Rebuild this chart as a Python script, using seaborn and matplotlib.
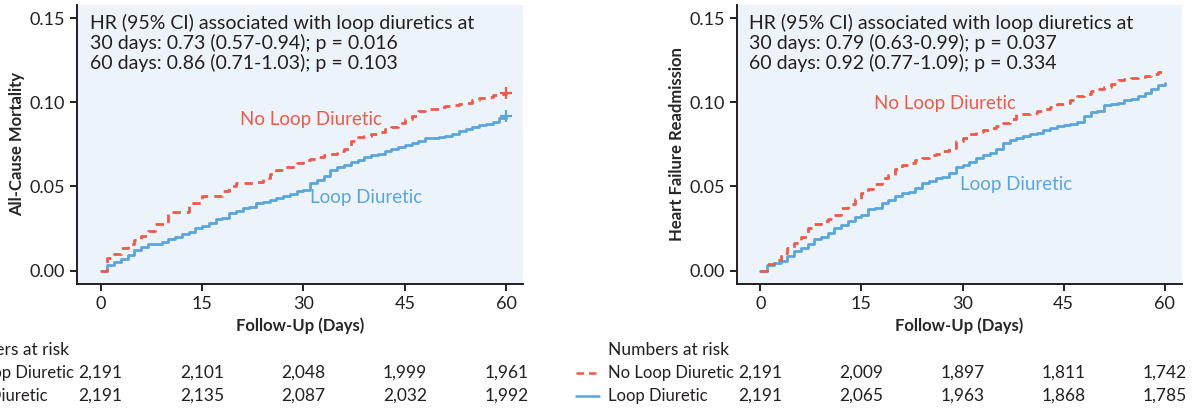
import matplotlib
matplotlib.use("Agg")
import matplotlib.pyplot as plt
import matplotlib.transforms as mtransforms
import pandas as pd
import seaborn as sns

# follow-up days, one value per day (cumulative incidence after that day's step)
days = list(range(61))

mort_no_loop = [0, 0.0076, 0.0101, 0.0135, 0.0159, 0.018, 0.0208, 0.0234, 0.0274, 0.0274,
                0.0347, 0.0347, 0.0347, 0.0403, 0.0403, 0.0442, 0.0442, 0.0442, 0.0472, 0.050,
                0.0518, 0.0518, 0.0518, 0.0528, 0.0552, 0.0577, 0.0597, 0.0617, 0.0617, 0.0641,
                0.0657, 0.0665, 0.0677, 0.0685, 0.0696, 0.071, 0.072, 0.077, 0.0796, 0.0803,
                0.0815, 0.0823, 0.0839, 0.0853, 0.0879, 0.0899, 0.0918, 0.0948, 0.0958, 0.0962,
                0.097, 0.0978, 0.0982, 0.0988, 0.0994, 0.1014, 0.1024, 0.1034, 0.1042, 0.1048,
                0.1058]
mort_loop = [0, 0.003, 0.005, 0.007, 0.0093, 0.012, 0.014, 0.0157, 0.016, 0.0169,
             0.019, 0.020, 0.0216, 0.0228, 0.0254, 0.0264, 0.028, 0.0304, 0.031, 0.034,
             0.0355, 0.0369, 0.0379, 0.040, 0.0409, 0.0419, 0.0433, 0.0442, 0.0458, 0.0474,
             0.048, 0.052, 0.054, 0.056, 0.060, 0.0617, 0.063, 0.0647, 0.066, 0.0673,
             0.0685, 0.0696, 0.071, 0.0724, 0.0734, 0.0746, 0.0756, 0.0768, 0.0788, 0.079,
             0.0796, 0.080, 0.0813, 0.083, 0.0839, 0.0855, 0.0863, 0.0873, 0.0883, 0.0909,
             0.0918]
hf_no_loop = [0, 0.0036, 0.0065, 0.0105, 0.0135, 0.0165, 0.0198, 0.0254, 0.0274, 0.0294,
              0.0308, 0.0333, 0.0373, 0.0393, 0.0423, 0.0462, 0.0482, 0.0512, 0.0552, 0.0571,
              0.0601, 0.0625, 0.0637, 0.066, 0.0671, 0.0685, 0.0696, 0.071, 0.073, 0.077,
              0.0786, 0.081, 0.0823, 0.0833, 0.0845, 0.0859, 0.0879, 0.0903, 0.0933, 0.0933,
              0.0938, 0.0948, 0.0962, 0.0974, 0.0988, 0.0998, 0.1012, 0.1038, 0.1052, 0.1067,
              0.1082, 0.1093, 0.1111, 0.1131, 0.1137, 0.1147, 0.115, 0.1156, 0.1167, 0.118,
              0.119]
hf_loop = [0, 0.0032, 0.0042, 0.0055, 0.0089, 0.0115, 0.0135, 0.0159, 0.0185, 0.020,
           0.0224, 0.0254, 0.027, 0.0294, 0.032, 0.0333, 0.0363, 0.0373, 0.0403, 0.0419,
           0.0446, 0.0462, 0.0468, 0.0492, 0.0518, 0.0532, 0.0552, 0.0558, 0.0581, 0.0617,
           0.0629, 0.0647, 0.0671, 0.069, 0.070, 0.072, 0.076, 0.0778, 0.079, 0.0798,
           0.081, 0.0817, 0.0835, 0.0845, 0.0857, 0.0865, 0.0873, 0.0883, 0.0918, 0.0944,
           0.0948, 0.0982, 0.0992, 0.0998, 0.1014, 0.1022, 0.1038, 0.1058, 0.1077, 0.1103,
           0.1117]

risk_days = [0, 15, 30, 45, 60]
mort_risk_no_loop = ["2,191", "2,101", "2,048", "1,999", "1,961"]
mort_risk_loop = ["2,191", "2,135", "2,087", "2,032", "1,992"]
hf_risk_no_loop = ["2,191", "2,009", "1,897", "1,811", "1,742"]
hf_risk_loop = ["2,191", "2,065", "1,963", "1,868", "1,785"]

mort_hr = ["HR (95% CI) associated with loop diuretics at",
           "30 days: 0.73 (0.57-0.94); p = 0.016",
           "60 days: 0.86 (0.71-1.03); p = 0.103"]
hf_hr = ["HR (95% CI) associated with loop diuretics at",
         "30 days: 0.79 (0.63-0.99); p = 0.037",
         "60 days: 0.92 (0.77-1.09); p = 0.334"]

RED = "#ee5a47"
BLUE = "#5aa6dc"
INK = "#231f20"
PANEL_BG = "#edf3fb"

sns.set_theme(style="ticks")
plt.rcParams["font.family"] = ["Lato", "DejaVu Sans"]
plt.rcParams.update({
    "axes.edgecolor": INK,
    "axes.linewidth": 1.4,
    "xtick.color": INK,
    "ytick.color": INK,
    "xtick.major.width": 1.4,
    "ytick.major.width": 1.4,
    "xtick.major.size": 5,
    "ytick.major.size": 5,
    "text.color": INK,
})

fig = plt.figure(figsize=(11.96, 4.08), dpi=100)
ax1 = fig.add_axes([0.0644, 0.304, 0.373, 0.684])
ax2 = fig.add_axes([0.616, 0.304, 0.372, 0.684])


def draw_panel(ax, no_loop, loop, hr_lines, ylabel, risk_no, risk_yes,
               lab_no, lab_yes, end_marks):
    df = pd.DataFrame({"day": days, "no_loop": no_loop, "loop": loop})
    sns.lineplot(data=df, x="day", y="loop", ax=ax, color=BLUE, lw=2.0,
                 drawstyle="steps-post", estimator=None, errorbar=None)
    sns.lineplot(data=df, x="day", y="no_loop", ax=ax, color=RED, lw=2.0,
                 drawstyle="steps-post", estimator=None, errorbar=None,
                 linestyle=(0, (3, 2.2)))
    if end_marks:
        ax.plot(days[-1], loop[-1], marker="+", ms=8, mew=1.6, color=BLUE)
        ax.plot(days[-1], no_loop[-1], marker="+", ms=8, mew=1.6, color=RED)

    ax.set_facecolor(PANEL_BG)
    ax.set_xlim(-3.5, 62.5)
    ax.set_ylim(-0.008, 0.158)
    ax.set_xticks(risk_days)
    ax.set_yticks([0, 0.05, 0.10, 0.15])
    ax.set_yticklabels(["0.00", "0.05", "0.10", "0.15"])
    ax.tick_params(labelsize=13)
    sns.despine(ax=ax)
    ax.set_xlabel("Follow-Up (Days)", fontsize=12, fontweight="bold", labelpad=4)
    ax.set_ylabel(ylabel, fontsize=12, fontweight="bold", labelpad=3)

    ax.text(0.028, 0.968, "\n".join(hr_lines), transform=ax.transAxes,
            ha="left", va="top", fontsize=14, linespacing=1.12)
    ax.text(lab_no[0], lab_no[1], "No Loop Diuretic", color=RED, fontsize=13.5,
            ha="center", va="center")
    ax.text(lab_yes[0], lab_yes[1], "Loop Diuretic", color=BLUE, fontsize=13.5,
            ha="center", va="center")

    # numbers at risk table under the panel
    tr = mtransforms.blended_transform_factory(ax.transData, fig.transFigure)
    rows_y = [1 - 373 / 408, 1 - 396 / 408]
    ax.text(-22.6, 1 - 350 / 408, "Numbers at risk", transform=tr, fontsize=12.5,
            ha="left", va="center", clip_on=False)
    for y, lab, vals, col, ls in [(rows_y[0], "No Loop Diuretic", risk_no, RED, (0, (3, 2))),
                                  (rows_y[1], "Loop Diuretic", risk_yes, BLUE, "-")]:
        ax.plot([-27.3, -23.9], [y, y], transform=tr, color=col, lw=1.8,
                linestyle=ls, clip_on=False)
        ax.text(-22.6, y, lab, transform=tr, fontsize=12, ha="left", va="center",
                clip_on=False)
        for d, v in zip(risk_days, vals):
            ax.text(d, y, v, transform=tr, fontsize=12.5, ha="center", va="center",
                    clip_on=False)


draw_panel(ax1, mort_no_loop, mort_loop, mort_hr, "All-Cause Mortality",
           mort_risk_no_loop, mort_risk_loop, (31.1, 0.0899), (39.3, 0.0435), True)
draw_panel(ax2, hf_no_loop, hf_loop, hf_hr, "Heart Failure Readmission",
           hf_risk_no_loop, hf_risk_loop, (27.4, 0.0994), (37.9, 0.0512), False)

fig.savefig("out.png", dpi=100)
